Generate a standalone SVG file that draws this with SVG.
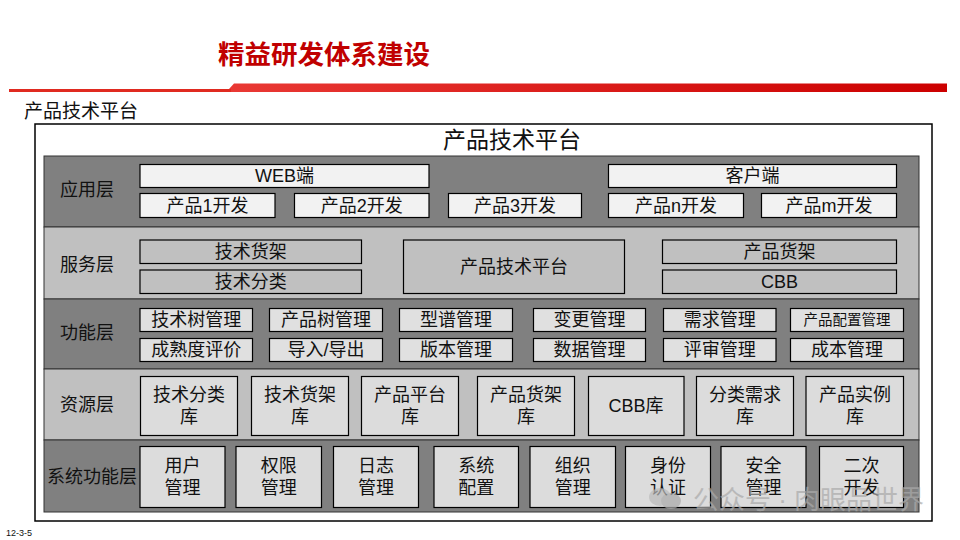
<svg xmlns="http://www.w3.org/2000/svg" width="960" height="540" viewBox="0 0 960 540">
<defs>
<linearGradient id="redbar" x1="0" y1="0" x2="1" y2="0">
<stop offset="0" stop-color="#f24a44"/>
<stop offset="1" stop-color="#cc0000"/>
</linearGradient>
</defs>
<style>
text{font-family:"Liberation Sans","Noto Sans CJK SC",sans-serif;fill:#111;text-anchor:middle;dominant-baseline:central}
.dark{fill:#808080;stroke:#333;stroke-width:1}
.light{fill:#c0c0c0;stroke:#333;stroke-width:1}
.wbox{fill:#f2f2f2;stroke:#000;stroke-width:1.2}
.gbox{fill:#c0c0c0;stroke:#000;stroke-width:1.2}
.fbox{fill:#e0e0e0;stroke:#000;stroke-width:1.2}
.rbox{fill:#dcdcdc;stroke:#000;stroke-width:1.2}
.t18{font-size:18px}
.lbl{font-size:18px}
</style>
<rect width="960" height="540" fill="#fff"/>
<text x="324" y="55" style="font-size:26.5px;font-weight:bold;fill:#c00000">精益研发体系建设</text>
<path d="M9 89 L229 89 L234 83.5 L947 83.5 L947 92 L9 92 Z" fill="url(#redbar)"/>
<rect x="9" y="89" width="222" height="3" fill="#e02a20"/>
<text x="24" y="111" style="font-size:19px;text-anchor:start">产品技术平台</text>
<text x="6" y="533" style="font-size:9px;text-anchor:start">12-3-5</text>

<g id="platform">
<rect x="35" y="124" width="897" height="397" fill="#fff" stroke="#000" stroke-width="1.5"/>
<text x="512" y="140" style="font-size:23px">产品技术平台</text>
</g>

<g id="layer-app">
<rect class="dark" x="44" y="156" width="875" height="71"/>
<text class="lbl" x="87" y="190">应用层</text>
</g>
<g id="layer-service">
<rect class="light" x="44" y="227" width="875" height="72"/>
<text class="lbl" x="87" y="265">服务层</text>
</g>
<g id="layer-func">
<rect class="dark" x="44" y="299" width="875" height="70"/>
<text class="lbl" x="87" y="333">功能层</text>
</g>
<g id="layer-res">
<rect class="light" x="44" y="369" width="875" height="71"/>
<text class="lbl" x="87" y="405">资源层</text>
</g>
<g id="layer-sys">
<rect class="dark" x="44" y="440" width="875" height="72"/>
<text class="lbl" x="92" y="477">系统功能层</text>
</g>

<g id="web"><rect class="wbox" x="140" y="164.5" width="289" height="23"/><text class="t18" x="284.5" y="176">WEB端</text></g>
<g id="client"><rect class="wbox" x="608.5" y="164.5" width="288" height="23"/><text class="t18" x="752.5" y="176">客户端</text></g>
<g id="p1"><rect class="wbox" x="140" y="193.5" width="135" height="24"/><text class="t18" x="207.5" y="205.5">产品1开发</text></g>
<g id="p2"><rect class="wbox" x="294.5" y="193.5" width="134.5" height="24"/><text class="t18" x="361.7" y="205.5">产品2开发</text></g>
<g id="p3"><rect class="wbox" x="448.5" y="193.5" width="133" height="24"/><text class="t18" x="515" y="205.5">产品3开发</text></g>
<g id="pn"><rect class="wbox" x="608.5" y="193.5" width="135" height="24"/><text class="t18" x="676" y="205.5">产品n开发</text></g>
<g id="pm"><rect class="wbox" x="761.5" y="193.5" width="135" height="24"/><text class="t18" x="829" y="205.5">产品m开发</text></g>

<g id="tech-shelf"><rect class="gbox" x="140" y="240" width="221.5" height="23.5"/><text class="t18" x="250.8" y="251.7">技术货架</text></g>
<g id="tech-class"><rect class="gbox" x="140" y="270" width="221.5" height="23.5"/><text class="t18" x="250.8" y="281.7">技术分类</text></g>
<g id="ptp"><rect class="gbox" x="403.5" y="240" width="221" height="53.5"/><text class="t18" x="514" y="266.7">产品技术平台</text></g>
<g id="prod-shelf"><rect class="gbox" x="662.5" y="240" width="234" height="23.5"/><text class="t18" x="779.5" y="251.7">产品货架</text></g>
<g id="cbb"><rect class="gbox" x="662.5" y="270" width="234" height="23.5"/><text class="t18" x="779.5" y="281.7">CBB</text></g>

<g id="f1"><rect class="fbox" x="140" y="308.5" width="112.5" height="23"/><text class="t18" x="196.2" y="320">技术树管理</text></g>
<g id="f2"><rect class="fbox" x="269.5" y="308.5" width="113" height="23"/><text class="t18" x="326" y="320">产品树管理</text></g>
<g id="f3"><rect class="fbox" x="399.5" y="308.5" width="113" height="23"/><text class="t18" x="456" y="320">型谱管理</text></g>
<g id="f4"><rect class="fbox" x="533.5" y="308.5" width="112" height="23"/><text class="t18" x="589.5" y="320">变更管理</text></g>
<g id="f5"><rect class="fbox" x="663.5" y="308.5" width="112.5" height="23"/><text class="t18" x="719.7" y="320">需求管理</text></g>
<g id="f6"><rect class="fbox" x="790.5" y="308.5" width="113" height="23"/><text x="847" y="320" style="font-size:14.5px">产品配置管理</text></g>
<g id="f7"><rect class="fbox" x="140" y="338.5" width="112.5" height="23"/><text class="t18" x="196.2" y="350">成熟度评价</text></g>
<g id="f8"><rect class="fbox" x="269.5" y="338.5" width="113" height="23"/><text class="t18" x="326" y="350">导入/导出</text></g>
<g id="f9"><rect class="fbox" x="399.5" y="338.5" width="113" height="23"/><text class="t18" x="456" y="350">版本管理</text></g>
<g id="f10"><rect class="fbox" x="533.5" y="338.5" width="112" height="23"/><text class="t18" x="589.5" y="350">数据管理</text></g>
<g id="f11"><rect class="fbox" x="663.5" y="338.5" width="112.5" height="23"/><text class="t18" x="719.7" y="350">评审管理</text></g>
<g id="f12"><rect class="fbox" x="790.5" y="338.5" width="113" height="23"/><text class="t18" x="847" y="350">成本管理</text></g>

<g id="r1"><rect class="rbox" x="140.5" y="376.5" width="97" height="59"/><text class="t18" x="189" y="395">技术分类</text><text class="t18" x="189" y="417">库</text></g>
<g id="r2"><rect class="rbox" x="251.5" y="376.5" width="97" height="59"/><text class="t18" x="300" y="395">技术货架</text><text class="t18" x="300" y="417">库</text></g>
<g id="r3"><rect class="rbox" x="361.5" y="376.5" width="97" height="59"/><text class="t18" x="410" y="395">产品平台</text><text class="t18" x="410" y="417">库</text></g>
<g id="r4"><rect class="rbox" x="477.5" y="376.5" width="97" height="59"/><text class="t18" x="526" y="395">产品货架</text><text class="t18" x="526" y="417">库</text></g>
<g id="r5"><rect class="rbox" x="588.5" y="376.5" width="95.5" height="59"/><text class="t18" x="636" y="406">CBB库</text></g>
<g id="r6"><rect class="rbox" x="696.5" y="376.5" width="97" height="59"/><text class="t18" x="745" y="395">分类需求</text><text class="t18" x="745" y="417">库</text></g>
<g id="r7"><rect class="rbox" x="806" y="376.5" width="97.5" height="59"/><text class="t18" x="855" y="395">产品实例</text><text class="t18" x="855" y="417">库</text></g>

<g id="s1"><rect class="rbox" x="140" y="446.5" width="85" height="61"/><text class="t18" x="182.5" y="466">用户</text><text class="t18" x="182.5" y="488">管理</text></g>
<g id="s2"><rect class="rbox" x="236" y="446.5" width="85.5" height="61"/><text class="t18" x="278.8" y="466">权限</text><text class="t18" x="278.8" y="488">管理</text></g>
<g id="s3"><rect class="rbox" x="333.5" y="446.5" width="85" height="61"/><text class="t18" x="376" y="466">日志</text><text class="t18" x="376" y="488">管理</text></g>
<g id="s4"><rect class="rbox" x="434" y="446.5" width="84.5" height="61"/><text class="t18" x="476.3" y="466">系统</text><text class="t18" x="476.3" y="488">配置</text></g>
<g id="s5"><rect class="rbox" x="530" y="446.5" width="85.5" height="61"/><text class="t18" x="572.8" y="466">组织</text><text class="t18" x="572.8" y="488">管理</text></g>
<g id="s6"><rect class="rbox" x="625.5" y="446.5" width="85" height="61"/><text class="t18" x="668" y="466">身份</text><text class="t18" x="668" y="488">认证</text></g>
<g id="s7"><rect class="rbox" x="721" y="446.5" width="85" height="61"/><text class="t18" x="763.5" y="466">安全</text><text class="t18" x="763.5" y="488">管理</text></g>
<g id="s8"><rect class="rbox" x="819.5" y="446.5" width="84" height="61"/><text class="t18" x="861.5" y="466">二次</text><text class="t18" x="861.5" y="488">开发</text></g>

<g id="connectors"></g>

<g id="watermark" opacity="0.7">
<ellipse cx="660" cy="497" rx="11" ry="9" fill="#bbb"/>
<ellipse cx="671" cy="501" rx="10" ry="8" fill="#aaa"/>
<text x="693" y="500" style="font-size:26px;fill:#aaa;text-anchor:start">公众号 · 肉眼品世界</text>
</g>
</svg>
